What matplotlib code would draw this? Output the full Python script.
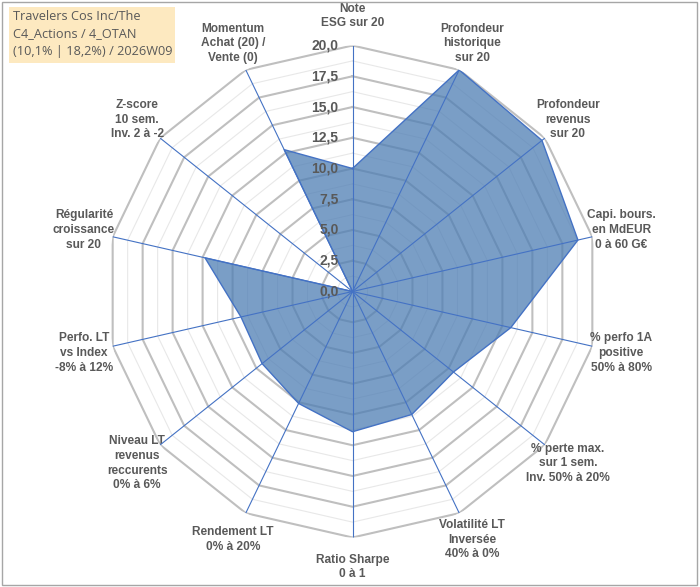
import numpy as np
import matplotlib
matplotlib.use("Agg")
import matplotlib.pyplot as plt
from matplotlib.patches import Rectangle

categories = [
    "Note\nESG sur 20",
    "Profondeur\nhistorique\nsur 20",
    "Profondeur\nrevenus\nsur 20",
    "Capi. bours.\nen MdEUR\n0 à 60 G€",
    "% perfo 1A\npositive\n50% à 80%",
    "% perte max.\nsur 1 sem.\nInv. 50% à 20%",
    "Volatilité LT\nInversée\n40% à 0%",
    "Ratio Sharpe\n0 à 1",
    "Rendement LT\n0% à 20%",
    "Niveau LT\nrevenus\nreccurents\n0% à 6%",
    "Perfo. LT\nvs Index\n-8% à 12%",
    "Régularité\ncroissance\nsur 20",
    "Z-score\n10 sem.\nInv. 2 à -2",
    "Momentum\nAchat (20) /\nVente (0)",
]
values = [10.0, 20.0, 19.7, 18.8, 13.2, 10.5, 11.1, 11.4, 10.1, 9.4, 9.3, 12.3, 0.0, 12.8]
ticks = [0, 2.5, 5, 7.5, 10, 12.5, 15, 17.5, 20]
tick_labels = ["0,0", "2,5", "5,0", "7,5", "10,0", "12,5", "15,0", "17,5", "20,0"]
title_lines = ["Travelers Cos Inc/The", "C4_Actions / 4_OTAN", "(10,1% | 18,2%) / 2026W09"]

W, H = 700, 587
fig = plt.figure(figsize=(W / 100, H / 100), dpi=100)
fig.patch.set_facecolor("white")

cx, cy, R = 352.5, 291.5, 246
ax = fig.add_axes([(cx - R) / W, (H - cy - R) / H, 2 * R / W, 2 * R / H], projection="polar")
ax.set_theta_zero_location("N")
ax.set_theta_direction(-1)
ax.set_ylim(0, 20)
ax.grid(False)
ax.spines["polar"].set_visible(False)
ax.set_xticks([])
ax.set_yticks([])
ax.patch.set_alpha(0)

n = len(categories)
angles = np.linspace(0, 2 * np.pi, n, endpoint=False)
closed = np.concatenate([angles, angles[:1]])

# minor grid
for r in np.arange(1.25, 20, 2.5):
    ax.plot(closed, [r] * (n + 1), color="#E8E8E8", lw=0.8, zorder=1)
# major grid
for r in ticks[1:]:
    ax.plot(closed, [r] * (n + 1), color="#BFBFBF", lw=1.5, zorder=2)

# data fill
vals = np.array(values + values[:1])
ax.fill(closed, vals, color="#4E7EB4", alpha=0.75, zorder=3, lw=0)
ax.plot(closed, vals, color="#4472C4", lw=1.0, zorder=4)

# radial axes
for a in angles:
    ax.plot([a, a], [0, 20], color="#4472C4", lw=0.8, zorder=5)

# tick labels
for t, lab in zip(ticks, tick_labels):
    ax.annotate(lab, xy=(0, t), xytext=(-14, 0), textcoords="offset pixels",
                ha="right", va="center", fontsize=10, fontweight="bold",
                color="#595959", family="Liberation Sans", zorder=6)

# category labels
for a, lab in zip(angles, categories):
    ax.text(a, 22.4, lab, ha="center", va="center", fontsize=8.6,
            fontweight="bold", color="#595959", family="Liberation Sans",
            linespacing=1.3)

# title box
fig.patches.append(Rectangle((9 / W, 1 - 63 / H), (175 - 9) / W, (63 - 7) / H,
                             transform=fig.transFigure, facecolor="#FDE9C0",
                             edgecolor="none", zorder=0))
fig.text(13 / W, 1 - 10 / H, "\n".join(title_lines), ha="left", va="top",
         fontsize=9.2, color="#595959", family="Open Sans", linespacing=1.45)

# chart border
fig.patches.append(Rectangle((2 / W, 2 / H), (W - 5) / W, (H - 4) / H,
                             transform=fig.transFigure, facecolor="none",
                             edgecolor="#A6A6A6", lw=1.0))

fig.savefig("out.png", dpi=100)
